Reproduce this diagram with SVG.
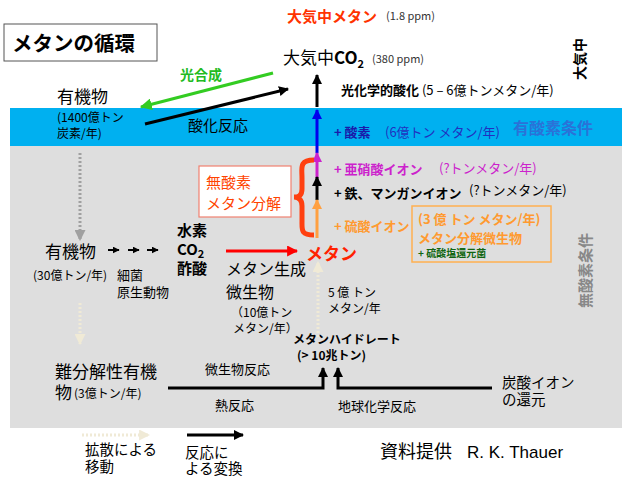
<svg xmlns="http://www.w3.org/2000/svg" width="627" height="478" viewBox="0 0 627 478">
<defs>
<style>
text{font-family:"Noto Sans CJK JP","Liberation Sans",sans-serif;fill:#000}
.b{font-weight:bold}
.s11{font-size:11px}.s12{font-size:12px}.s13{font-size:13px}.s14{font-size:14px}.s15{font-size:15px}.s16{font-size:16px}.s17{font-size:17px}
.ln{fill:none;stroke-width:3}
</style>
<marker id="ak" viewBox="0 0 10 10" refX="9" refY="5" markerWidth="10" markerHeight="10" markerUnits="userSpaceOnUse" orient="auto"><path d="M0,0L10,5L0,10z" fill="#000"/></marker>
<marker id="akS" viewBox="0 0 10 10" refX="9" refY="5" markerWidth="7" markerHeight="7" markerUnits="userSpaceOnUse" orient="auto"><path d="M0,0L10,5L0,10z" fill="#000"/></marker>
<marker id="ag" viewBox="0 0 10 10" refX="9" refY="5" markerWidth="12" markerHeight="12" markerUnits="userSpaceOnUse" orient="auto"><path d="M0,0L10,5L0,10z" fill="#33cc22"/></marker>
<marker id="ab" viewBox="0 0 10 10" refX="9" refY="5" markerWidth="10" markerHeight="10" markerUnits="userSpaceOnUse" orient="auto"><path d="M0,0L10,5L0,10z" fill="#0000ee"/></marker>
<marker id="am" viewBox="0 0 10 10" refX="9" refY="5" markerWidth="10" markerHeight="10" markerUnits="userSpaceOnUse" orient="auto"><path d="M0,0L10,5L0,10z" fill="#cc22cc"/></marker>
<marker id="ao" viewBox="0 0 10 10" refX="9" refY="5" markerWidth="10" markerHeight="10" markerUnits="userSpaceOnUse" orient="auto"><path d="M0,0L10,5L0,10z" fill="#ffa040"/></marker>
<marker id="ar" viewBox="0 0 10 10" refX="9" refY="5" markerWidth="11" markerHeight="11" markerUnits="userSpaceOnUse" orient="auto"><path d="M0,0L10,5L0,10z" fill="#ff0000"/></marker>
<marker id="agr" viewBox="0 0 10 10" refX="9" refY="5" markerWidth="11" markerHeight="11" markerUnits="userSpaceOnUse" orient="auto"><path d="M0,0L10,5L0,10z" fill="#a0a0a0"/></marker>
<marker id="ac" viewBox="0 0 10 10" refX="9" refY="5" markerWidth="11" markerHeight="11" markerUnits="userSpaceOnUse" orient="auto"><path d="M0,0L10,5L0,10z" fill="#f0ead6"/></marker>
</defs>
<rect width="627" height="478" fill="#fff"/>
<g id="background">
<rect x="10" y="108" width="612" height="38" fill="#00b0f0"/>
<rect x="10" y="146" width="612" height="282" fill="#dedede"/>
</g>
<g id="title"><rect x="4" y="24" width="153" height="37" fill="#fff" stroke="#555" stroke-width="1"/>
<text x="12" y="51" class="b" style="font-size:20.5px">メタンの循環</text></g>
<g id="atm-methane"><text x="287" y="22" class="b s15" style="fill:#ff3300">大気中メタン</text><text x="386" y="20" class="s11" style="fill:#333">(1.8 ppm)</text></g>
<g id="atm-co2"><text x="283" y="64" class="s17">大気中<tspan class="b">CO</tspan><tspan class="b s11" dy="4">2</tspan></text><text x="372" y="63" class="s11" style="fill:#333">(380 ppm)</text></g>
<g id="atm-vertical"><text transform="translate(585,80) rotate(-90)" class="b s14">大気中</text></g>
<g id="photo-ox"><text x="341" y="95" class="b s13">光化学的酸化<tspan style="font-weight:normal"> (5 – 6億トンメタン/年)</tspan></text></g>
<g id="photosynthesis"><text x="180" y="80" class="b s14" style="fill:#22bb22">光合成</text></g>
<g id="organic-top"><text x="57" y="103" class="s17">有機物</text><text x="57" y="122" class="s12">(1400億トン</text><text x="57" y="138" class="s12">炭素/年)</text></g>
<g id="oxidation"><text x="188" y="131" class="s15">酸化反応</text></g>
<g id="oxygen"><text x="334" y="137" class="b s13" style="fill:#1a1aaa">+ 酸素</text><text x="385" y="137" class="s13" style="fill:#2030c0">(6億トン メタン/年)</text></g>
<g id="aerobic"><text x="513" y="134" class="b s16" style="fill:#2a72d8">有酸素条件</text></g>
<g id="nitrite"><text x="334" y="174" class="b s13" style="fill:#cc22cc">+ 亜硝酸イオン</text><text x="439" y="173" class="s13" style="fill:#cc22cc">(?トンメタン/年)</text></g>
<g id="iron"><text x="334" y="198" class="b s13">+ 鉄、マンガンイオン</text><text x="469" y="195" class="s13">(?トンメタン/年)</text></g>
<g id="sulfate"><text x="334" y="231" class="b s13" style="fill:#ff9a30">+ 硫酸イオン</text></g>
<g id="anaerobic-box"><rect x="199" y="166" width="92" height="51" fill="#fff" stroke="#f08070" stroke-width="1.2"/>
<text x="206" y="188" class="s15" style="fill:#ff4400">無酸素</text><text x="206" y="209" class="s15" style="fill:#ff4400">メタン分解</text></g>
<g id="anme-box"><rect x="412" y="206" width="139" height="56" fill="#dedede" stroke="#ffb050" stroke-width="1.5"/>
<text x="418" y="224" class="b s13" style="fill:#ff9a30">(3 億 トン メタン/年)</text>
<text x="418" y="243" class="b s13" style="fill:#ff9a30">メタン分解微生物</text>
<text x="418" y="257" class="b" style="font-size:10px;fill:#116611">+ 硫酸塩還元菌</text></g>
<g id="methane"><text x="306" y="260" class="b s17" style="fill:#ff2200">メタン</text></g>
<g id="anoxic"><text transform="translate(591,308) rotate(-90)" class="b s15" style="fill:#888">無酸素条件</text></g>
<g id="organic-mid"><text x="45" y="258" class="s17">有機物</text><text x="33" y="280" class="s12">(30億トン/年)</text></g>
<g id="bacteria"><text x="117" y="280" class="s13">細菌</text><text x="117" y="297" class="s13">原生動物</text></g>
<g id="substrates"><text x="177" y="236" class="b s15">水素</text><text x="177" y="255" class="b s15">CO<tspan class="s11" dy="3">2</tspan></text><text x="177" y="274" class="b s15">酢酸</text></g>
<g id="methanogens"><text x="226" y="275" class="s16">メタン生成</text><text x="226" y="298" class="s16">微生物</text><text x="231" y="317" class="s12">（10億トン</text><text x="233" y="333" class="s12">メタン/年）</text></g>
<g id="release"><text x="328" y="297" class="s12">5 億 トン</text><text x="328" y="313" class="s12">メタン/年</text></g>
<g id="hydrate"><text x="293" y="344" class="b s12">メタンハイドレート</text><text x="297" y="360" class="b s12">(&gt; 10兆トン)</text></g>
<g id="refractory"><text x="55" y="378" class="s17">難分解性有機</text><text x="55" y="399" class="s17">物</text><text x="74" y="398" class="s12">(3億トン/年)</text></g>
<g id="reactions"><text x="205" y="374" class="s13">微生物反応</text><text x="215" y="410" class="s13">熱反応</text><text x="338" y="411" class="s13">地球化学反応</text></g>
<g id="carbonate"><text x="502" y="388" style="font-size:14.5px">炭酸イオン</text><text x="502" y="405" style="font-size:14.5px">の還元</text></g>
<g id="legend"><text x="85" y="455" style="font-size:14.5px">拡散による</text><text x="85" y="472" style="font-size:14.5px">移動</text><text x="185" y="458" style="font-size:14.5px">反応に</text><text x="185" y="474" style="font-size:14.5px">よる変換</text></g>
<g id="credit"><text x="380" y="458" style="font-size:18px">資料提供</text><text x="467" y="458" style="font-size:17px;font-family:'Liberation Sans',sans-serif">R. K. Thauer</text></g>
<g id="connectors">
<line x1="317" y1="107" x2="317" y2="75" class="ln" stroke="#000" marker-end="url(#ak)"/>
<line x1="273" y1="73" x2="141" y2="107" class="ln" stroke="#33cc22" marker-end="url(#ag)"/>
<line x1="145" y1="124" x2="288" y2="89" class="ln" stroke="#000" marker-end="url(#ak)"/>
<line x1="317" y1="153" x2="317" y2="110" class="ln" stroke="#0000ee" marker-end="url(#ab)"/>
<line x1="317" y1="178" x2="317" y2="153" class="ln" stroke="#cc22cc" marker-end="url(#am)"/>
<line x1="317" y1="200" x2="317" y2="177" class="ln" stroke="#000" marker-end="url(#ak)"/>
<line x1="317" y1="238" x2="317" y2="200" class="ln" stroke="#ffa040" marker-end="url(#ao)"/>
<path d="M314,160 C299,160 302,168 302,178 L302,189 C302,196 298,197 294,197 C298,197 302,199 302,206 L302,222 C302,230 301,235 314,235" fill="none" stroke="#ff4010" stroke-width="5"/>
<line x1="226" y1="251" x2="297" y2="251" class="ln" stroke="#ff0000" marker-end="url(#ar)"/>
<line x1="108" y1="250" x2="119" y2="250" stroke="#000" stroke-width="2" marker-end="url(#akS)"/>
<line x1="128" y1="250" x2="139" y2="250" stroke="#000" stroke-width="2" marker-end="url(#akS)"/>
<line x1="147" y1="250" x2="158" y2="250" stroke="#000" stroke-width="2" marker-end="url(#akS)"/>
<line x1="80" y1="153" x2="80" y2="240" class="ln" stroke="#a0a0a0" stroke-dasharray="2 2" marker-end="url(#agr)"/>
<line x1="80" y1="303" x2="80" y2="344" class="ln" stroke="#f0ead6" stroke-dasharray="2 2" marker-end="url(#ac)"/>
<line x1="318" y1="337" x2="318" y2="262" class="ln" stroke="#f0ead6" stroke-dasharray="2 2" marker-end="url(#ac)"/>
<path d="M168,388 L323,388 L323,368" class="ln" stroke="#000" marker-end="url(#ak)"/>
<path d="M492,388 L338,388 L338,368" class="ln" stroke="#000" marker-end="url(#ak)"/>
<line x1="82" y1="435" x2="149" y2="435" class="ln" stroke="#f0ead6" stroke-dasharray="2 2" marker-end="url(#ac)"/>
<line x1="187" y1="435" x2="243" y2="435" class="ln" stroke="#000" marker-end="url(#ak)"/>
</g>
</svg>
